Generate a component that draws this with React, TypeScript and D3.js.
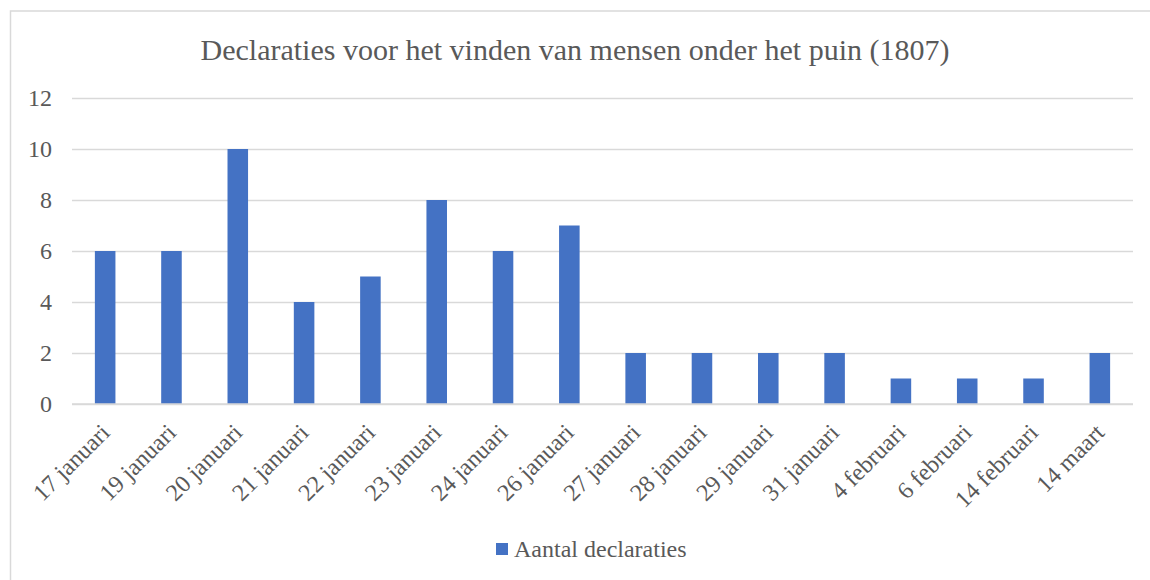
import { useEffect, useRef } from "react";
import { select, scaleBand, scaleLinear, axisLeft } from "d3";

const categories = [
  "17 januari",
  "19 januari",
  "20 januari",
  "21 januari",
  "22 januari",
  "23 januari",
  "24 januari",
  "26 januari",
  "27 januari",
  "28 januari",
  "29 januari",
  "31 januari",
  "4 februari",
  "6 februari",
  "14 februari",
  "14 maart",
];
const declaraties = [6, 6, 10, 4, 5, 8, 6, 7, 2, 2, 2, 2, 1, 1, 1, 2];
const yTicks = [0, 2, 4, 6, 8, 10, 12];

const title = "Declaraties voor het vinden van mensen onder het puin (1807)";
const seriesName = "Aantal declaraties";

const W = 1150;
const H = 580;
const FONT = "'Liberation Serif', 'Times New Roman', serif";
const TEXT = "#595959";
const GRID = "#d9d9d9";
const BAR = "#4472c4";

export default function App() {
  const svgRef = useRef<SVGSVGElement>(null);

  useEffect(() => {
    const svg = select(svgRef.current);
    svg.selectAll("*").remove();

    const plot = { left: 72, right: 1133, top: 98, bottom: 404 };

    // chart frame
    svg
      .append("rect")
      .attr("x", 10.5)
      .attr("y", 11)
      .attr("width", 1200)
      .attr("height", 700)
      .attr("fill", "#fff")
      .attr("stroke", GRID)
      .attr("stroke-width", 1.5);

    svg
      .append("text")
      .attr("x", 575)
      .attr("y", 60)
      .attr("text-anchor", "middle")
      .attr("font-family", FONT)
      .attr("font-size", 30)
      .attr("fill", TEXT)
      .text(title);

    const x = scaleBand<string>()
      .domain(categories)
      .range([plot.left, plot.right])
      .paddingInner(0.69)
      .paddingOuter(0.345);
    const y = scaleLinear().domain([0, 12]).range([plot.bottom, plot.top]);

    // --- gridlines + y axis ---
    svg
      .append("g")
      .attr("transform", `translate(${plot.left},0)`)
      .call(
        axisLeft(y)
          .tickValues(yTicks)
          .tickSize(-(plot.right - plot.left))
          .tickPadding(20)
          .tickFormat((d) => `${d}`),
      )
      .call((sel) => sel.select(".domain").remove())
      .call((sel) =>
        sel
          .selectAll(".tick line")
          .attr("stroke", GRID)
          .attr("stroke-width", 1.5),
      )
      .call((sel) =>
        sel
          .selectAll(".tick text")
          .attr("fill", TEXT)
          .attr("font-family", FONT)
          .attr("font-size", 24),
      );

    // --- bars ---
    svg
      .append("g")
      .selectAll("rect")
      .data(declaraties)
      .join("rect")
      .attr("x", (_, i) => x(categories[i]) ?? 0)
      .attr("y", (d) => y(d))
      .attr("width", x.bandwidth())
      .attr("height", (d) => y(0) - y(d))
      .attr("fill", BAR);

    // baseline
    svg
      .append("line")
      .attr("x1", plot.left)
      .attr("x2", plot.right)
      .attr("y1", y(0))
      .attr("y2", y(0))
      .attr("stroke", GRID)
      .attr("stroke-width", 1.5);

    // --- x labels, rotated ---
    svg
      .append("g")
      .selectAll("text")
      .data(categories)
      .join("text")
      .attr("text-anchor", "end")
      .attr("font-family", FONT)
      .attr("font-size", 24)
      .attr("fill", TEXT)
      .attr(
        "transform",
        (d) =>
          `translate(${(x(d) ?? 0) + x.bandwidth() / 2 + 6},${y(0) + 30}) rotate(-45)`,
      )
      .text((d) => d);

    // --- legend ---
    const lg = svg.append("g").attr("transform", "translate(496,543)");
    lg.append("rect").attr("width", 12).attr("height", 12).attr("fill", BAR);
    lg.append("text")
      .attr("x", 18)
      .attr("y", 14)
      .attr("font-family", FONT)
      .attr("font-size", 24)
      .attr("fill", TEXT)
      .text(seriesName);
  }, []);

  return (
    <svg
      ref={svgRef}
      width={W}
      height={H}
      style={{ position: "absolute", left: 0, top: 0, background: "#fff" }}
    />
  );
}
